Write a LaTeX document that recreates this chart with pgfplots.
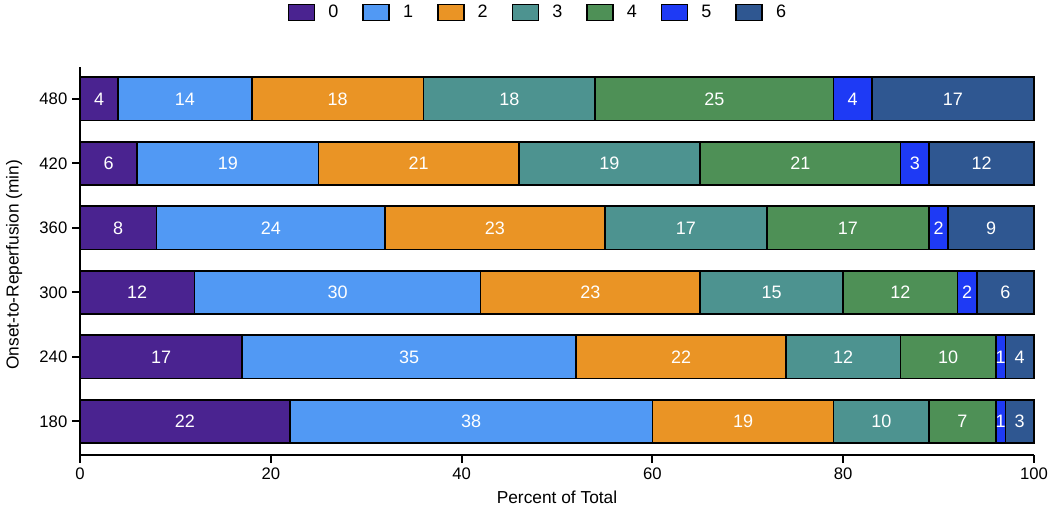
\documentclass[border=0pt]{standalone}
\usepackage{pgfplots}
\pgfplotsset{compat=1.18}
\usepackage{pgfplotstable}
\usepackage{fontspec}
\setmainfont{Liberation Sans}
\definecolor{c0}{RGB}{74,35,144}
\definecolor{c1}{RGB}{81,153,244}
\definecolor{c2}{RGB}{234,148,37}
\definecolor{c3}{RGB}{77,147,144}
\definecolor{c4}{RGB}{78,144,86}
\definecolor{c5}{RGB}{30,58,245}
\definecolor{c6}{RGB}{47,87,145}
\pgfplotstableread{
pos s0 s1 s2 s3 s4 s5 s6 l6
0 22 38 19 10 7 1 3 3
1 17 35 22 12 10 1 3 4
2 12 30 23 15 12 2 6 6
3 8 24 23 17 17 2 9 9
4 6 19 21 19 21 3 11 12
5 4 14 18 18 25 4 17 17
}\data
\pgfplotsset{
  seg/.style={
    fill=#1, draw=black, line width=1.2pt,
    nodes near coords={\pgfplotspointmeta},
    point meta=explicit symbolic,
    every node near coord/.append style={anchor=center, text=white,
      font=\fontsize{13.5}{16}\selectfont},
  },
}
\begin{document}
\begin{tikzpicture}
\begin{axis}[
  at={(0,0)}, anchor=south west,
  x=7.155pt, y=48.375pt,
  xbar stacked, bar width=32.6pt,
  xmin=0, xmax=100, ymin=-0.52, ymax=5.5,
  clip=false,
  axis lines*=left,
  axis line style={line width=1.5pt},
  tick style={line width=1.5pt, black},
  major tick length=6pt,
  tick align=outside,
  xtick={0,20,40,60,80,100},
  ytick={0,1,2,3,4,5},
  yticklabels={180,240,300,360,420,480},
  /pgf/number format/assume math mode=true,
  ticklabel style={font=\fontsize{12.5}{15}\selectfont},
  xlabel={Percent of Total},
  ylabel={Onset-to-Reperfusion (min)},
  label style={font=\fontsize{13}{15}\selectfont},
  xlabel style={at={(axis description cs:0.5,-0.108)}, anchor=center},
  ylabel style={at={(axis description cs:-0.069,0.49)}, anchor=center},
  legend columns=-1,
  legend image code/.code={\draw[#1, draw=black, line width=1.2pt] (0pt,-6pt) rectangle (19.5pt,6pt);},
  legend style={draw=none, fill=none, at={(axis description cs:0.479,1.14)}, anchor=center,
    font=\fontsize{13.5}{16}\selectfont,
    nodes={inner sep=0pt},
    /tikz/every odd column/.append style={column sep=9.75pt},
    /tikz/every even column/.append style={column sep=18pt}},
]
\addplot[seg=c0] table[x=s0, y=pos, meta=s0] {\data};
\addplot[seg=c1] table[x=s1, y=pos, meta=s1] {\data};
\addplot[seg=c2] table[x=s2, y=pos, meta=s2] {\data};
\addplot[seg=c3] table[x=s3, y=pos, meta=s3] {\data};
\addplot[seg=c4] table[x=s4, y=pos, meta=s4] {\data};
\addplot[seg=c5] table[x=s5, y=pos, meta=s5] {\data};
\addplot[seg=c6] table[x=s6, y=pos, meta=l6] {\data};
\legend{0,1,2,3,4,5,6}
\end{axis}
\pgfresetboundingbox
\path (-60pt,-41.25pt) rectangle (727.5pt,341.25pt);
\end{tikzpicture}
\end{document}
